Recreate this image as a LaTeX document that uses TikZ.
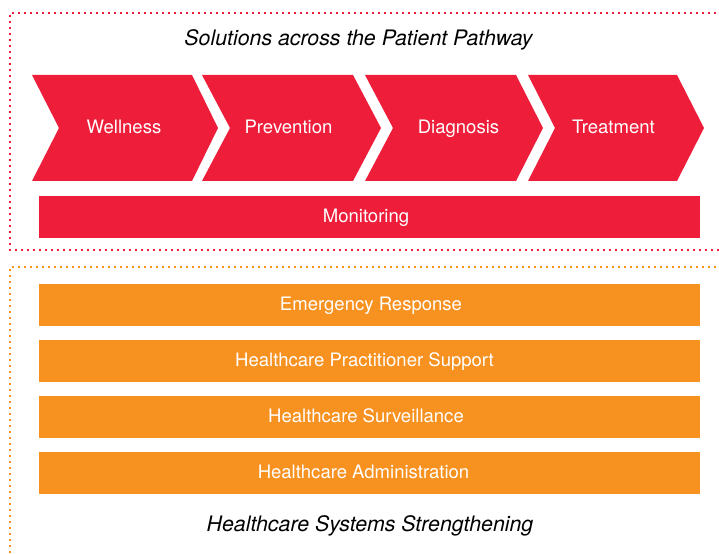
\documentclass[tikz,border=0pt]{standalone}
\usepackage{fontspec}
\setmainfont{TeX Gyre Heros}
\definecolor{hred}{RGB}{238,29,58}
\definecolor{horange}{RGB}{247,145,32}
\tikzset{
  chev/.style={fill=hred, draw=none},
  redbar/.style={fill=hred, draw=none},
  orangebar/.style={fill=horange, draw=none},
  label/.style={text=white, anchor=base, inner sep=0pt, font=\fontsize{18.6}{20}\selectfont},
  heading/.style={text=black, anchor=base, inner sep=0pt, font=\fontsize{21.4}{24}\selectfont\itshape},
  dotline/.style={line width=2bp, dash pattern=on 2bp off 4bp},
}
\begin{document}
\begin{tikzpicture}[x=1bp,y=-1bp]
\useasboundingbox (0,0) rectangle (719,554);
% borders
\draw[dotline, hred] (722,13) -- (10,13) -- (10,250) -- (722,250);
\draw[dotline, horange] (722,267) -- (10,267) -- (10,558);
% heading
\node[heading] (title) at (358.5,46) {Solutions across the Patient Pathway};
% chevrons
\fill[chev] (32,75) -- (192,75) -- (218,128) -- (192,181) -- (32,181) -- (59,128) -- cycle;
\fill[chev] (202,75) -- (353,75) -- (381,128) -- (353,181) -- (202,181) -- (230,128) -- cycle;
\fill[chev] (365,75) -- (516,75) -- (543,128) -- (516,181) -- (365,181) -- (393,128) -- cycle;
\fill[chev] (528,75) -- (677,75) -- (704,128) -- (677,181) -- (528,181) -- (555,128) -- cycle;
\node[label] (wellness) at (124,133.5) {Wellness};
\node[label] (prevention) at (288.5,133.5) {Prevention};
\node[label] (diagnosis) at (458.5,133.5) {Diagnosis};
\node[label] (treatment) at (613.5,133.5) {Treatment};
% monitoring
\fill[redbar] (39,196) rectangle (700,238);
\node[label] (monitoring) at (366,222.5) {Monitoring};
% orange bars
\fill[orangebar] (39,284) rectangle (700,326);
\fill[orangebar] (39,340) rectangle (700,382);
\fill[orangebar] (39,396) rectangle (700,438);
\fill[orangebar] (39,452) rectangle (700,494);
\node[label] (emergency) at (371,310.5) {Emergency Response};
\node[label] (practitioner) at (364.5,366.5) {Healthcare Practitioner Support};
\node[label] (surveillance) at (366,422.5) {Healthcare Surveillance};
\node[label] (admin) at (363.5,478.5) {Healthcare Administration};
\node[heading] (bottom) at (370,531.5) {Healthcare Systems Strengthening};
\end{tikzpicture}
\end{document}
